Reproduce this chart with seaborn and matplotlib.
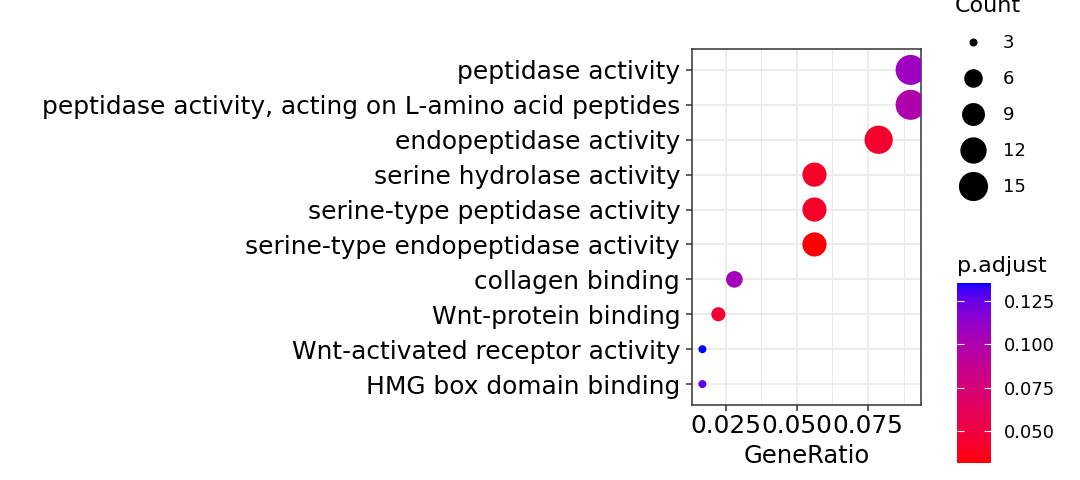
import numpy as np
import pandas as pd
import seaborn as sns
import matplotlib
matplotlib.use("Agg")
import matplotlib.pyplot as plt
from matplotlib.colors import ListedColormap, Normalize
from matplotlib.lines import Line2D
from matplotlib.ticker import AutoMinorLocator
import matplotlib.cm as cm

# GO enrichment dotplot values
descriptions = [
    "peptidase activity",
    "peptidase activity, acting on L-amino acid peptides",
    "endopeptidase activity",
    "serine hydrolase activity",
    "serine-type peptidase activity",
    "serine-type endopeptidase activity",
    "collagen binding",
    "Wnt-protein binding",
    "Wnt-activated receptor activity",
    "HMG box domain binding",
]
counts = [16, 16, 14, 10, 10, 10, 5, 4, 3, 3]
gene_ratio = [0.0899, 0.0899, 0.0787, 0.0562, 0.0562, 0.0562, 0.0281, 0.0225, 0.0169, 0.0169]
p_adjust = [0.108, 0.099, 0.043, 0.041, 0.041, 0.0316, 0.106, 0.046, 0.1352, 0.126]
count_breaks = [3, 6, 9, 12, 15]
padj_ticks = [0.050, 0.075, 0.100, 0.125]

df = pd.DataFrame({"Description": descriptions, "Count": counts,
                   "GeneRatio": gene_ratio, "p.adjust": p_adjust})


# red -> blue gradient interpolated in CIE Lab, like ggplot's scale_colour_gradient
WHITE = np.array([0.95047, 1.0, 1.08883])
M = np.array([[0.4124, 0.3576, 0.1805],
              [0.2126, 0.7152, 0.0722],
              [0.0193, 0.1192, 0.9505]])


def to_lab(rgb):
    c = np.asarray(rgb, float)
    lin = np.where(c <= 0.04045, c / 12.92, ((c + 0.055) / 1.055) ** 2.4)
    t = M @ lin / WHITE
    d = 6 / 29
    f = np.where(t > d ** 3, np.cbrt(t), t / (3 * d * d) + 4 / 29)
    return np.array([116 * f[1] - 16, 500 * (f[0] - f[1]), 200 * (f[1] - f[2])])


def from_lab(lab):
    L, a, b = lab
    fy = (L + 16) / 116
    f = np.array([fy + a / 500, fy, fy - b / 200])
    d = 6 / 29
    t = np.where(f > d, f ** 3, 3 * d * d * (f - 4 / 29)) * WHITE
    lin = np.linalg.solve(M, t)
    lin = np.clip(lin, 0, 1)
    c = np.where(lin <= 0.0031308, 12.92 * lin, 1.055 * lin ** (1 / 2.4) - 0.055)
    return np.clip(c, 0, 1)


lo, hi = to_lab([1, 0, 0]), to_lab([0, 0, 1])
cmap = ListedColormap([from_lab(lo + (hi - lo) * t) for t in np.linspace(0, 1, 256)])
norm = Normalize(min(p_adjust), max(p_adjust))


def point_area(c):
    # ggplot area palette: diameter grows with sqrt of rescaled count
    d_px = 8 + 22 * np.sqrt((c - min(counts)) / (max(counts) - min(counts)))
    return (d_px * 0.72) ** 2


size_map = {c: point_area(c) for c in sorted(set(counts) | set(count_breaks))}

fig = plt.figure(figsize=(10.8, 4.8), dpi=100)
ax = fig.add_axes([692 / 1080, 1 - 405 / 480, 229 / 1080, 356 / 480])

sns.scatterplot(data=df, x="GeneRatio", y="Description", hue="p.adjust",
                palette=cmap, hue_norm=norm, size="Count", sizes=size_map,
                linewidth=0, legend=False, ax=ax, zorder=3)

span = max(gene_ratio) - min(gene_ratio)
ax.set_xlim(min(gene_ratio) - 0.05 * span, max(gene_ratio) + 0.05 * span)
ax.set_ylim(len(descriptions) - 0.4, -0.6)
ax.set_xticks([0.025, 0.050, 0.075])
ax.set_xticklabels(["0.025", "0.050", "0.075"])
ax.xaxis.set_minor_locator(AutoMinorLocator(2))

ax.set_axisbelow(True)
ax.grid(True, which="major", color="#EBEBEB", lw=1.3)
ax.grid(True, which="minor", axis="x", color="#EBEBEB", lw=0.7)
for s in ax.spines.values():
    s.set_color("#333333")
    s.set_linewidth(1.1)
ax.tick_params(which="major", length=4, width=1.1, color="#333333",
               labelsize=17.9, labelcolor="black", pad=2.5)
ax.tick_params(axis="y", pad=4.5)
ax.tick_params(which="minor", length=0)
ax.set_xlabel("GeneRatio", fontsize=17.5, labelpad=4)
ax.set_ylabel("")

# Count legend (title runs off the top edge, as in the reference)
handles = [Line2D([], [], ls="", marker="o", color="black", mew=0,
                  markersize=np.sqrt(size_map[c])) for c in count_breaks]
leg = fig.legend(handles, [str(c) for c in count_breaks], title="Count",
                 loc="upper left", bbox_to_anchor=(955 / 1080, 1.008),
                 frameon=False, fontsize=13, title_fontsize=16,
                 alignment="left", borderpad=0, borderaxespad=0,
                 handlelength=2.0, handletextpad=0.65, labelspacing=1.0)

# p.adjust colourbar
cax = fig.add_axes([957 / 1080, 1 - 463 / 480, 34 / 1080, 180 / 480])
cb = fig.colorbar(cm.ScalarMappable(norm=norm, cmap=cmap), cax=cax)
cb.outline.set_visible(False)
cb.set_ticks(padj_ticks)
cb.set_ticklabels([f"{t:.3f}" for t in padj_ticks])
cax.yaxis.set_ticks_position("both")
cax.tick_params(direction="in", color="white", length=5, width=0.8,
                labelsize=13, labelright=True, labelleft=False, pad=9)
cax.set_title("p.adjust", loc="left", fontsize=16, pad=8)

fig.savefig("out.png", dpi=100)
